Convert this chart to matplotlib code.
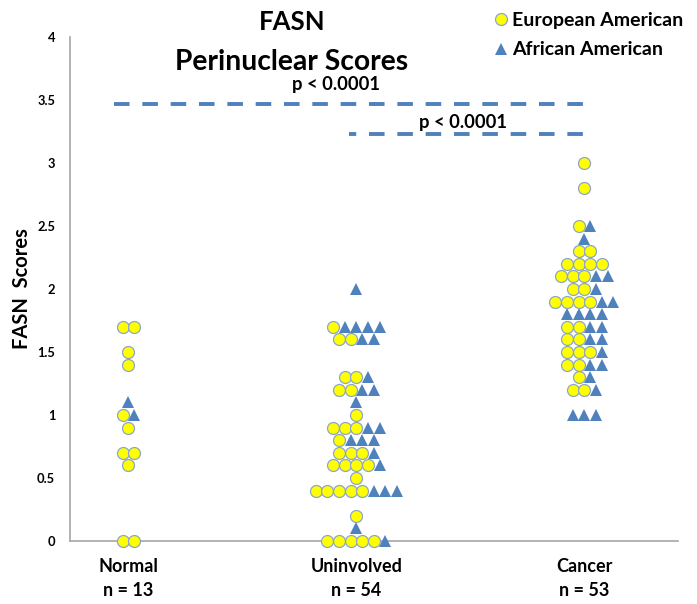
import numpy as np
import matplotlib
matplotlib.use('Agg')
import matplotlib.pyplot as plt
from matplotlib.lines import Line2D

plt.rcParams['font.family'] = ['Lato', 'DejaVu Sans']
plt.rcParams['font.weight'] = 'bold'
plt.rcParams['lines.scale_dashes'] = False

# --- data (scores) ---
groups = ['Normal', 'Uninvolved', 'Cancer']
group_n = [13, 54, 53]

normal_ea = [1.7, 1.7, 1.5, 1.4, 1.0, 0.9, 0.7, 0.7, 0.6, 0.0, 0.0]
normal_aa = [1.1, 1.0]

uninv_ea = [1.7, 1.6, 1.6, 1.3, 1.3, 1.2, 1.2, 1.0, 0.9, 0.9, 0.9, 0.8,
            0.7, 0.7, 0.7, 0.6, 0.6, 0.6, 0.6, 0.5, 0.4, 0.4, 0.4, 0.4, 0.4,
            0.2, 0.0, 0.0, 0.0, 0.0, 0.0]
uninv_aa = [2.0, 1.7, 1.7, 1.7, 1.7, 1.6, 1.6, 1.3, 1.2, 1.2, 1.1, 0.9, 0.9,
            0.8, 0.8, 0.8, 0.7, 0.6, 0.4, 0.4, 0.4, 0.1, 0.0]

cancer_ea = [3.0, 2.8, 2.5, 2.3, 2.3, 2.2, 2.2, 2.2, 2.2, 2.1, 2.1, 2.1,
             2.0, 2.0, 1.9, 1.9, 1.9, 1.9, 1.7, 1.7, 1.6, 1.6, 1.5, 1.5, 1.5,
             1.4, 1.4, 1.3, 1.2, 1.2]
cancer_aa = [2.5, 2.4, 2.1, 2.1, 2.0, 1.9, 1.9, 1.8, 1.8, 1.8, 1.8, 1.7, 1.7,
             1.6, 1.6, 1.5, 1.4, 1.4, 1.3, 1.2, 1.0, 1.0, 1.0]

ea_all = [normal_ea, uninv_ea, cancer_ea]
aa_all = [normal_aa, uninv_aa, cancer_aa]

yticks = [0, 0.5, 1, 1.5, 2, 2.5, 3, 3.5, 4]
ytick_labels = ['0', '0.5', '1', '1.5', '2', '2.5', '3', '3.5', '4']

YELLOW = '#FFFF00'
EDGE = '#8DA6C6'
BLUE = '#4F81BD'

fig = plt.figure(figsize=(6.97, 6.04), dpi=100)
ax = fig.add_axes([0.1011, 0.1043, 0.8716, 0.8344])

step = 0.0509  # horizontal spacing between neighbouring markers (x units)


def swarm(ax, center, ea, aa):
    ea = np.round(ea, 2)
    aa = np.round(aa, 2)
    levels = np.unique(np.concatenate([ea, aa]))
    ex, ey, tx, ty = [], [], [], []
    for v in levels:
        ne = int(np.sum(ea == v))
        na = int(np.sum(aa == v))
        n = ne + na
        offs = (np.arange(n) - (n - 1) / 2) * step
        ex += list(center + offs[:ne])
        ey += [v] * ne
        tx += list(center + offs[ne:])
        ty += [v] * na
    ax.plot(tx, ty, ls='none', marker='^', ms=9, color=BLUE, mew=0,
            clip_on=False, zorder=3)
    ax.plot(ex, ey, ls='none', marker='o', ms=8.6, mfc=YELLOW, mec=EDGE,
            mew=0.9, clip_on=False, zorder=4)


for i in range(3):
    swarm(ax, i, ea_all[i], aa_all[i])

ax.set_xlim(-0.254, 2.41)
ax.set_ylim(0, 4)
ax.set_yticks(yticks)
ax.set_yticklabels(ytick_labels, fontsize=9.3, fontweight='bold')
ax.set_xticks([0, 1, 2])
ax.set_xticklabels([f'{g}\nn = {n}' for g, n in zip(groups, group_n)],
                   fontsize=13, fontweight='bold', linespacing=1.5)
ax.tick_params(axis='y', length=0, pad=11)
ax.tick_params(axis='x', length=0, pad=12.5)
for s in ['top', 'right']:
    ax.spines[s].set_visible(False)
for s in ['left', 'bottom']:
    ax.spines[s].set_color('#A6A6A6')
    ax.spines[s].set_linewidth(1.2)

ax.set_ylabel('FASN  Scores', fontsize=14.5, fontweight='bold')
ax.yaxis.set_label_coords(-0.064, 0.5)

# significance bars
ax.plot([-0.064, 1.993], [3.47, 3.47], color=BLUE, lw=2.8,
        ls=(0, (11.2, 9.2)), solid_capstyle='butt', dash_capstyle='butt')
ax.plot([0.967, 1.993], [3.23, 3.23], color=BLUE, lw=2.8,
        ls=(6.0, (11.2, 9.2)), solid_capstyle='butt', dash_capstyle='butt')
ax.text(0.91, 3.579, 'p < 0.0001', ha='center', va='baseline',
        fontsize=13.2, fontweight='bold')
ax.text(1.467, 3.278, 'p < 0.0001', ha='center', va='baseline',
        fontsize=13.2, fontweight='bold')

# title
fig.text(0.419, 1 - 30 / 604, 'FASN', ha='center', va='baseline',
         fontsize=18.5, fontweight='bold')
fig.text(0.419, 1 - 70 / 604, 'Perinuclear Scores', ha='center',
         va='baseline', fontsize=20.3, fontweight='bold')

# legend
handles = [Line2D([], [], ls='none', marker='o', ms=8.6, mfc=YELLOW,
                  mec=EDGE, mew=0.9, label='European American'),
           Line2D([], [], ls='none', marker='^', ms=9, color=BLUE, mew=0,
                  label='African American')]
fig.legend(handles=handles, loc='upper left', bbox_to_anchor=(0.693, 1.0),
           frameon=False, fontsize=14, handlelength=0.6, handletextpad=0.3,
           labelspacing=0.65, borderaxespad=0.2)

fig.savefig('out.png', dpi=100)
